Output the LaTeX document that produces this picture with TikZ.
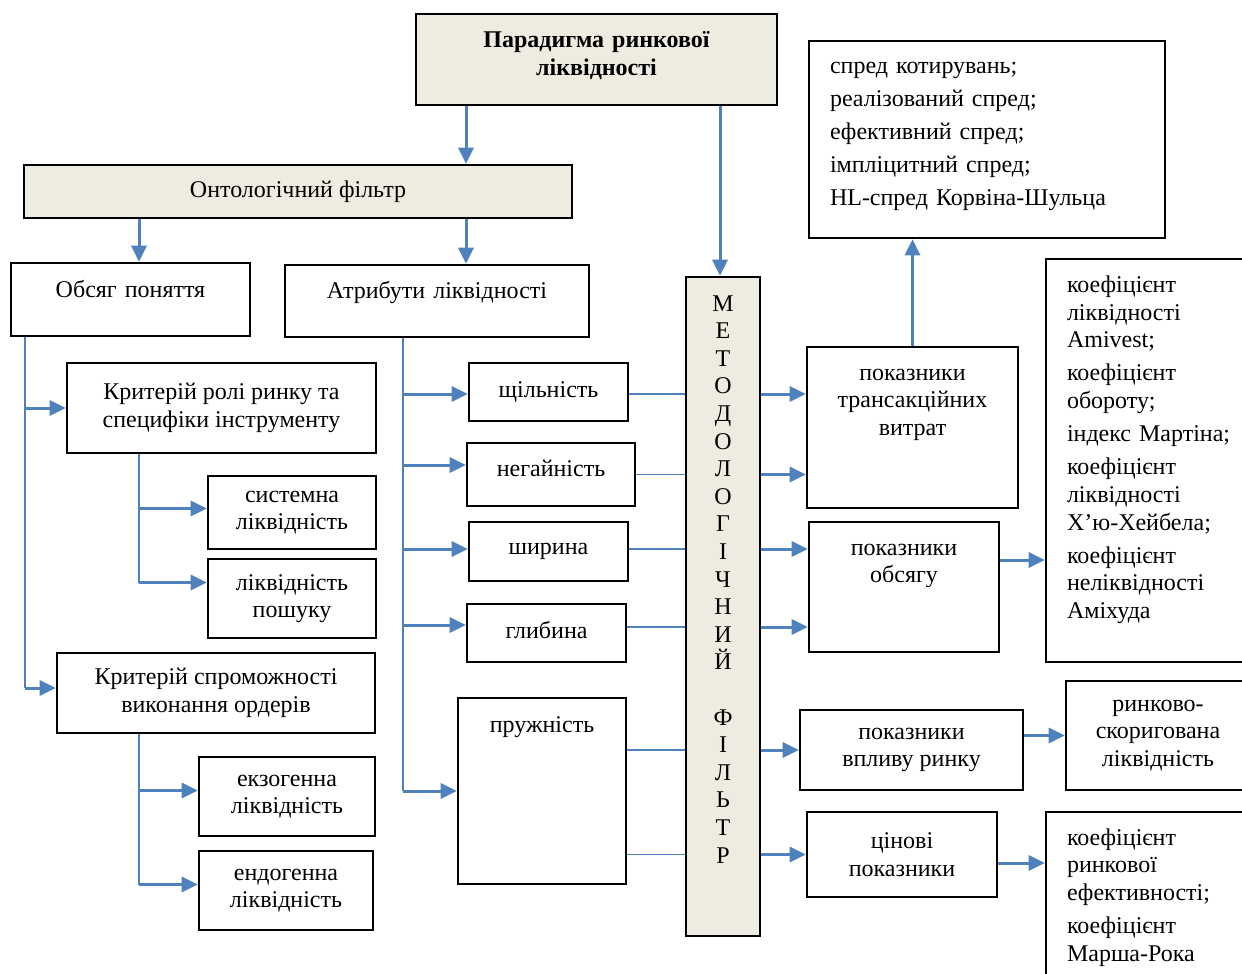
\documentclass[tikz,border=0pt]{standalone}
\usepackage{fontspec}
\setmainfont{Liberation Serif}
\usetikzlibrary{arrows.meta}
\definecolor{linkblue}{HTML}{4F81BD}
\definecolor{filterfill}{HTML}{EEECE1}
\tikzstyle{box} = [rectangle, draw=black, line width=1.3pt, inner sep=0pt, align=center, font=\fontsize{12pt}{13.8pt}\selectfont]
\tikzstyle{filter} = [box, fill=filterfill]
\tikzstyle{arrow} = [draw=linkblue, line width=1.5pt, -{Triangle[length=8pt, width=7.5pt]}]
\tikzstyle{link} = [draw=linkblue, line width=0.6pt]

\begin{document}
\begin{tikzpicture}[x=0.5pt, y=-0.5pt]
        \useasboundingbox (0,0) rectangle (1242,974);
        \clip (0,0) rectangle (1242,974);

        \node (paradigm) [filter, minimum width=180.5pt, minimum height=45.5pt, text width=160pt, text height=16.75pt, text depth=28.75pt, font=\fontsize{12pt}{13.8pt}\selectfont\bfseries] at (596.5,59.5) {Парадигма ринкової\\ліквідності};
        \node (onto) [filter, minimum width=274pt, minimum height=26.5pt] at (298,191.5) {Онтологічний фільтр};
        \node (obsyag) [box, minimum width=119.5pt, minimum height=36.5pt, text width=110pt, text height=17.25pt, text depth=19.25pt] at (130.5,299.5) {Обсяг поняття};
        \node (atryb) [box, minimum width=152pt, minimum height=36pt, text width=140pt, text height=16.75pt, text depth=19.25pt] at (437,301) {Атрибути ліквідності};
        \node (rol) [box, minimum width=154.5pt, minimum height=45pt] at (221.5,408) {Критерій ролі ринку та\\специфіки інструменту};
        \node (systemna) [box, minimum width=84pt, minimum height=36.5pt] at (292,512.5) {системна\\ліквідність};
        \node (poshuk) [box, minimum width=84pt, minimum height=39.5pt] at (292,598.5) {ліквідність\\пошуку};
        \node (sprom) [box, minimum width=159pt, minimum height=40pt] at (216,693) {Критерій спроможності\\виконання ордерів};
        \node (ekzo) [box, minimum width=88pt, minimum height=39.5pt] at (287,796.5) {екзогенна\\ліквідність};
        \node (endo) [box, minimum width=87pt, minimum height=39.5pt] at (286,890.5) {ендогенна\\ліквідність};

        \node (shchil) [box, minimum width=79.5pt, minimum height=29pt] at (548.5,392) {щільність};
        \node (nehai) [box, minimum width=84pt, minimum height=31.5pt, text height=16.5pt, text depth=15pt] at (551,474.5) {негайність};
        \node (shyryna) [box, minimum width=79.5pt, minimum height=29.5pt] at (548.5,551.5) {ширина};
        \node (hlybyna) [box, minimum width=79.5pt, minimum height=29pt, text height=17pt, text depth=12pt] at (546.5,633) {глибина};
        \node (pruzh) [box, minimum width=84pt, minimum height=93pt, text width=80pt, text height=17.25pt, text depth=75.75pt] at (542,791) {пружність};

        \node (method) [filter, minimum width=37pt, minimum height=329.5pt, text width=30pt, text height=17pt, text depth=312.5pt] at (723,606.5) {М\\Е\\Т\\О\\Д\\О\\Л\\О\\Г\\І\\Ч\\Н\\И\\Й\\[13.8pt]Ф\\І\\Л\\Ь\\Т\\Р};

        \node (trans) [box, minimum width=105.5pt, minimum height=80.5pt, text width=100pt, text height=16.5pt, text depth=64pt] at (912.5,427.5) {показники\\трансакційних\\витрат};
        \node (obsyagu) [box, minimum width=95pt, minimum height=65pt, text width=90pt, text height=16.5pt, text depth=48.5pt] at (904,587) {показники\\обсягу};
        \node (vplyv) [box, minimum width=111.5pt, minimum height=40pt] at (911.5,750) {показники\\впливу ринку};
        \node (tsinovi) [box, minimum width=95pt, minimum height=42.5pt] at (902,854.5) {цінові\\показники};
        \node (spred) [box, minimum width=178pt, minimum height=98.5pt, text width=157pt, align=left, text height=16.5pt, text depth=82pt] at (987,139.5) {спред котирувань;\\[2.7pt]реалізований спред;\\[2.7pt]ефективний спред;\\[2.7pt]імпліцитний спред;\\[2.7pt]HL-спред Корвіна-Шульца};
        \node (koef1) [box, minimum width=108pt, minimum height=201.5pt, text width=87pt, align=left, text height=16.75pt, text depth=184.75pt] at (1154,460.5) {коефіцієнт\\ліквідності\\Amivest;\\[2.8pt]коефіцієнт\\обороту;\\[2.8pt]індекс Мартіна;\\[2.8pt]коефіцієнт\\ліквідності\\Х’ю-Хейбела;\\[2.8pt]коефіцієнт\\неліквідності\\Аміхуда};
        \node (rynkovo) [box, minimum width=92pt, minimum height=54.5pt] at (1158,735.5) {ринково-\\скоригована\\ліквідність};
        \node (koef2) [box, minimum width=108pt, minimum height=94pt, text width=87pt, align=left, text height=16.5pt, text depth=77.5pt] at (1154,906) {коефіцієнт\\ринкової\\ефективності;\\[2.8pt]коефіцієнт\\Марша-Рока};

        % bus lines
        \coordinate (busA) at (25,0);
        \coordinate (busB) at (139,0);
        \coordinate (busC) at (403,0);
        \coordinate (busD) at (466,0);
        \coordinate (busM) at (720,0);

        \draw [arrow] (paradigm.south -| busD) -- (onto.north -| busD);
        \draw [arrow] (paradigm.south -| busM) -- (method.north -| busM);
        \draw [arrow] (onto.south -| busB) -- (obsyag.north -| busB);
        \draw [arrow] (onto.south -| busD) -- (atryb.north -| busD);

        \draw [link] (obsyag.south -| busA) -- ([yshift=2.5pt]sprom.west -| busA);
        \draw [arrow] (rol.west -| busA) -- (rol.west);
        \draw [arrow] ([yshift=2.5pt]sprom.west -| busA) -- ([yshift=2.5pt]sprom.west);

        \draw [link] (rol.south -| busB) -- ([yshift=8pt]poshuk.west -| busB);
        \draw [arrow] ([yshift=2pt]systemna.west -| busB) -- ([yshift=2pt]systemna.west);
        \draw [arrow] ([yshift=8pt]poshuk.west -| busB) -- ([yshift=8pt]poshuk.west);
        \draw [link] (sprom.south -| busB) -- ([yshift=3pt]endo.west -| busB);
        \draw [arrow] ([yshift=3pt]ekzo.west -| busB) -- ([yshift=3pt]ekzo.west);
        \draw [arrow] ([yshift=3pt]endo.west -| busB) -- ([yshift=3pt]endo.west);

        \draw [link] (atryb.south -| busC) -- (pruzh.west -| busC);
        \draw [arrow] ([yshift=-1pt]shchil.west -| busC) -- ([yshift=-1pt]shchil.west);
        \draw [arrow] ([yshift=4.75pt]nehai.west -| busC) -- ([yshift=4.75pt]nehai.west);
        \draw [arrow] ([yshift=1.25pt]shyryna.west -| busC) -- ([yshift=1.25pt]shyryna.west);
        \draw [arrow] ([yshift=4pt]hlybyna.west -| busC) -- ([yshift=4pt]hlybyna.west);
        \draw [arrow] (pruzh.west -| busC) -- (pruzh.west);

        % through the methodological filter
        \draw [link] ([yshift=-1pt]shchil.east) -- ([yshift=-1pt]shchil.east -| method.west);
        \draw [link] (nehai.east) -- (nehai.east -| method.west);
        \draw [link] ([yshift=1.25pt]shyryna.east) -- ([yshift=1.25pt]shyryna.east -| method.west);
        \draw [link] ([yshift=3pt]hlybyna.east) -- ([yshift=3pt]hlybyna.east -| method.west);
        \draw [link] (pruzh.east |- vplyv.west) -- (method.west |- vplyv.west);
        \draw [link] (pruzh.east |- tsinovi.west) -- (method.west |- tsinovi.west);

        \draw [arrow] ([yshift=-1pt]shchil.east -| method.east) -- ([yshift=-1pt]shchil.east -| trans.west);
        \draw [arrow] (nehai.east -| method.east) -- (nehai.east -| trans.west);
        \draw [arrow] ([yshift=1.25pt]shyryna.east -| method.east) -- ([yshift=1.25pt]shyryna.east -| obsyagu.west);
        \draw [arrow] ([yshift=3pt]hlybyna.east -| method.east) -- ([yshift=3pt]hlybyna.east -| obsyagu.west);
        \draw [arrow] (method.east |- vplyv.west) -- (vplyv.west);
        \draw [arrow] (method.east |- tsinovi.west) -- (tsinovi.west);

        \draw [arrow] (trans.north) -- (trans.north |- spred.south);
        \draw [arrow] ([yshift=13.5pt]obsyagu.east) -- ([yshift=13.5pt]obsyagu.east -| koef1.west);
        \draw [arrow] (vplyv.east |- rynkovo.west) -- (rynkovo.west);
        \draw [arrow] ([yshift=-4.25pt]tsinovi.east) -- ([yshift=-4.25pt]tsinovi.east -| koef2.west);

      \end{tikzpicture}
\end{document}
